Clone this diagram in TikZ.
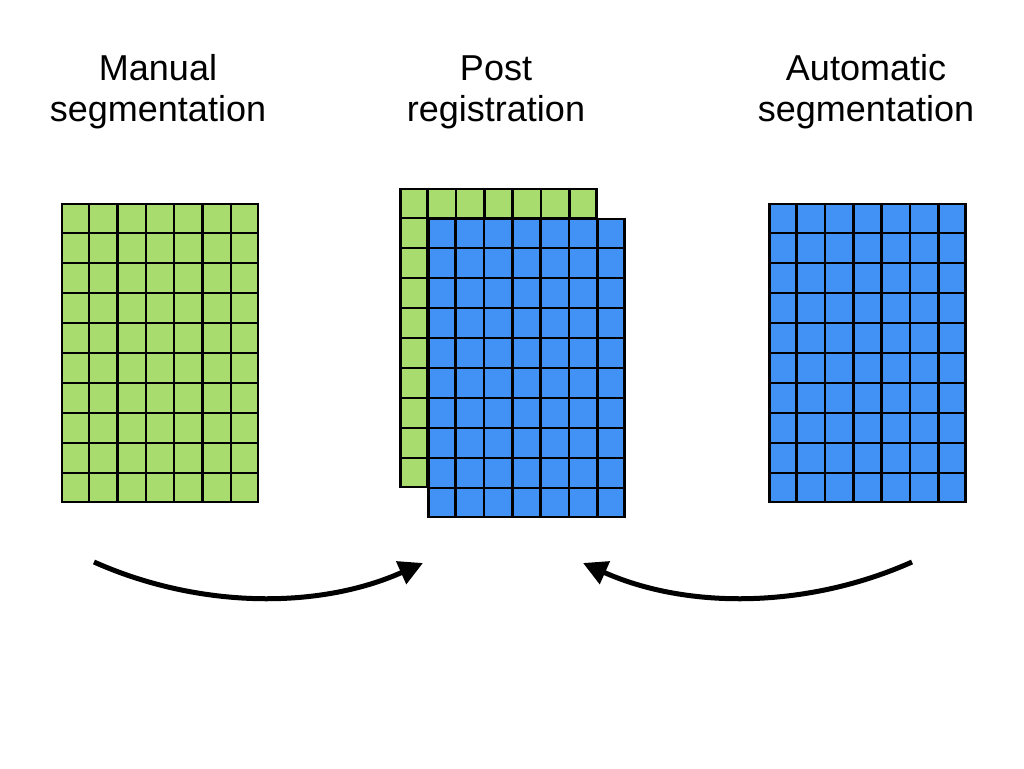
\documentclass[tikz,border=0pt]{standalone}
\usepackage{fontspec}
\setmainfont{Liberation Sans}
\usetikzlibrary{calc,arrows.meta,shadows}
\definecolor{gridgreen}{RGB}{169,220,110}
\definecolor{gridblue}{RGB}{66,146,245}
\tikzset{
  gridbox/.style={draw=black, line width=2.4pt, minimum width=196pt, minimum height=298pt, inner sep=0pt,
    drop shadow={shadow xshift=0.8pt, shadow yshift=-1.2pt, opacity=0.35, fill=black}},
  title/.style={font=\fontsize{36}{40}\selectfont, align=center, inner sep=0pt, anchor=base},
  flow/.style={line width=5pt, -{Triangle[length=24pt,width=24pt]}},
}
\newcommand{\gridlines}[1]{%
  \foreach \i in {1,...,6}{\draw[line width=2.4pt] ($(#1.north west)!\i/7!(#1.north east)$) -- ($(#1.south west)!\i/7!(#1.south east)$);}
  \foreach \j in {1,...,9}{\draw[line width=2.4pt] ($(#1.north west)!\j/10!(#1.south west)$) -- ($(#1.north east)!\j/10!(#1.south east)$);}
}
\begin{document}
\begin{tikzpicture}[x=1pt,y=-1pt]
\useasboundingbox[fill=white] (0,0) rectangle (1024,768);
% titles
\node[title] (t1) at (158,121) {Manual\\segmentation};
\node[title] (t2) at (496,121) {Post\\registration};
\node[title] (t3) at (866,121) {Automatic\\segmentation};
% grids
\node[gridbox, fill=gridgreen] (gl) at (160,353) {};
\gridlines{gl}
\node[gridbox, fill=gridgreen] (gc) at (498.5,338) {};
\gridlines{gc}
\node[gridbox, fill=gridblue] (bc) at (526.5,368) {};
\gridlines{bc}
\node[gridbox, fill=gridblue] (gr) at (867.5,353) {};
\gridlines{gr}
% arrows
\coordinate (a1s) at (94,562);
\coordinate (a1e) at (423,563);
\coordinate (a2s) at (912,562);
\coordinate (a2e) at (583,563);
\draw[flow] (a1s) .. controls (198.6,608.6) and (318.4,609.6) .. (a1e);
\draw[flow] (a2s) .. controls (807.4,608.6) and (687.6,609.6) .. (a2e);
\end{tikzpicture}
\end{document}
